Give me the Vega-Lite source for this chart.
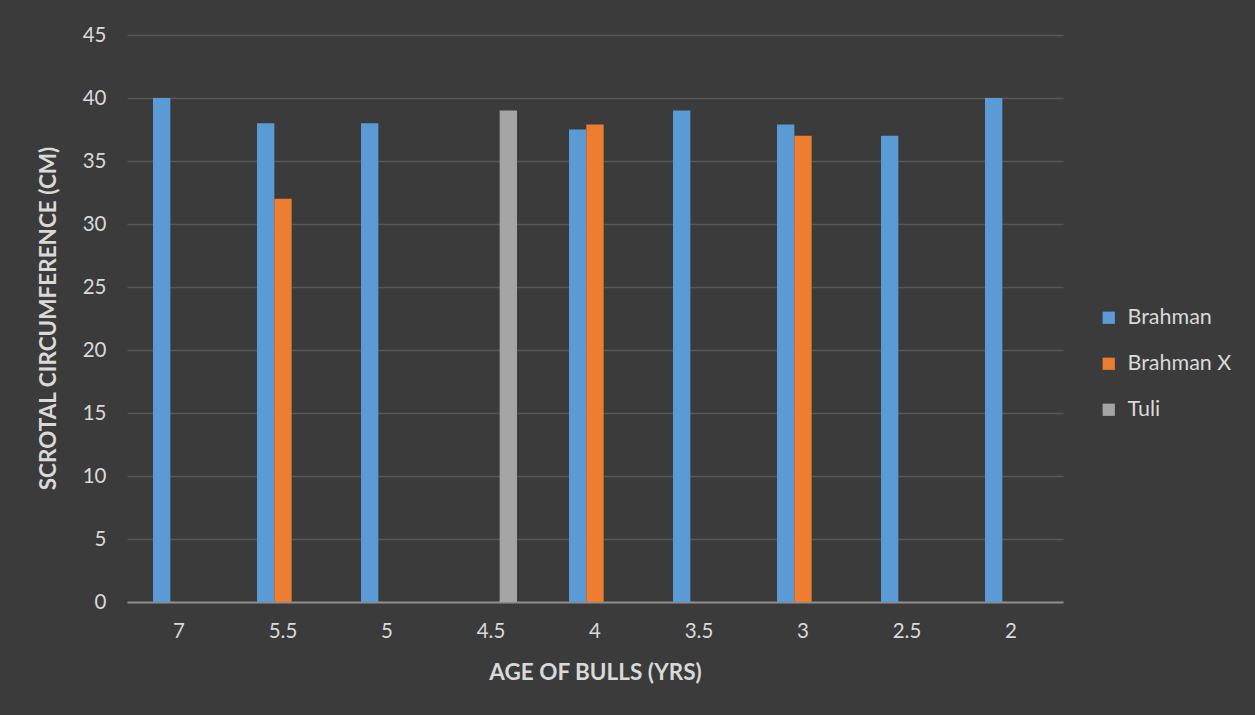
{
  "$schema": "https://vega.github.io/schema/vega-lite/v6.json",
  "width": 936,
  "height": 567,
  "autosize": {"type": "none"},
  "padding": {"left": 127, "top": 35, "right": 192, "bottom": 113},
  "background": "#3b3b3b",
  "config": {
    "view": {"stroke": null},
    "font": "Lato",
    "axis": {
      "labelColor": "#d9d9d9",
      "titleColor": "#d9d9d9",
      "labelFont": "Lato",
      "titleFont": "Lato",
      "labelFontSize": 20.5,
      "titleFontSize": 22.5,
      "titleFontWeight": "bold",
      "ticks": false
    },
    "legend": {
      "labelColor": "#d9d9d9",
      "labelFont": "Lato",
      "labelFontSize": 21.5
    }
  },
  "data": {
    "values": [
      {"age": "7", "breed": "Brahman", "sc": 40},
      {"age": "5.5", "breed": "Brahman", "sc": 38},
      {"age": "5.5", "breed": "Brahman X", "sc": 32},
      {"age": "5", "breed": "Brahman", "sc": 38},
      {"age": "4.5", "breed": "Tuli", "sc": 39},
      {"age": "4", "breed": "Brahman", "sc": 37.5},
      {"age": "4", "breed": "Brahman X", "sc": 37.9},
      {"age": "3.5", "breed": "Brahman", "sc": 39},
      {"age": "3", "breed": "Brahman", "sc": 37.9},
      {"age": "3", "breed": "Brahman X", "sc": 37},
      {"age": "2.5", "breed": "Brahman", "sc": 37},
      {"age": "2", "breed": "Brahman", "sc": 40}
    ]
  },
  "mark": {"type": "bar"},
  "encoding": {
    "x": {
      "field": "age",
      "type": "nominal",
      "sort": ["7", "5.5", "5", "4.5", "4", "3.5", "3", "2.5", "2"],
      "scale": {"paddingInner": 0.5, "paddingOuter": 0.25},
      "axis": {
        "title": "AGE OF BULLS (YRS)",
        "labelAngle": 0,
        "labelPadding": 19,
        "domainColor": "#8c8c8c",
        "domainWidth": 2,
        "titleY": 70,
        "titleBaseline": "middle",
        "grid": false
      }
    },
    "xOffset": {
      "field": "breed",
      "type": "nominal",
      "scale": {"domain": ["Brahman", "Brahman X", "Tuli"], "paddingInner": 0, "paddingOuter": 0}
    },
    "y": {
      "field": "sc",
      "type": "quantitative",
      "scale": {"domain": [0, 45]},
      "axis": {
        "title": "SCROTAL CIRCUMFERENCE (CM)",
        "values": [0, 5, 10, 15, 20, 25, 30, 35, 40, 45],
        "domain": false,
        "labelPadding": 21,
        "gridColor": "#575757",
        "gridWidth": 1.3,
        "titleX": -79,
        "titleY": 283,
        "titleAngle": -90,
        "titleBaseline": "middle",
        "titleAlign": "center"
      }
    },
    "color": {
      "field": "breed",
      "type": "nominal",
      "scale": {"domain": ["Brahman", "Brahman X", "Tuli"], "range": ["#5b9bd5", "#ed7d31", "#a5a5a5"]},
      "legend": {
        "title": null,
        "orient": "none",
        "legendX": 971,
        "legendY": 272,
        "symbolType": "square",
        "symbolSize": 150,
        "symbolStrokeWidth": 0,
        "rowPadding": 23,
        "labelOffset": 8
      }
    }
  }
}
